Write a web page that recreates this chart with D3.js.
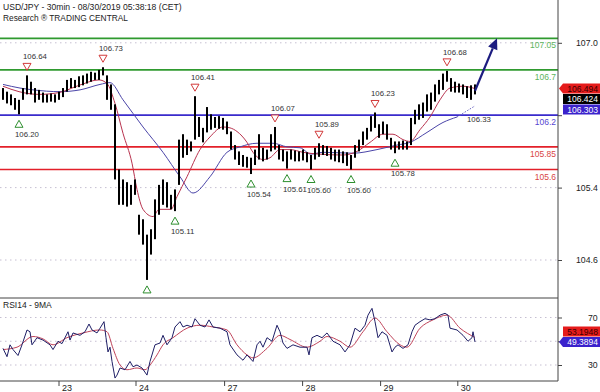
<!DOCTYPE html>
<html><head><meta charset="utf-8">
<script src="https://cdn.jsdelivr.net/npm/d3@7"></script>
<style>body{margin:0;background:#fff}svg{display:block}text{font-family:"Liberation Sans",Arial,sans-serif}</style>
</head><body><svg id="c" width="600" height="392"></svg>
<script>
// ---------- DATA ----------
const hi = [106.50,106.46,106.43,106.39,106.37,106.50,106.64,106.57,106.50,106.48,
106.45,106.43,106.44,106.43,106.46,106.50,106.59,106.61,106.59,106.63,
106.64,106.66,106.68,106.67,106.70,106.73,106.64,106.54,106.32,105.60,
105.49,105.46,105.43,105.49,105.10,105.05,104.88,104.94,105.27,105.43,
105.49,105.46,105.32,105.38,105.93,105.99,105.93,105.91,106.41,106.18,
106.06,106.29,106.21,106.18,106.19,106.17,106.13,106.02,105.87,105.80,
105.76,105.74,105.73,105.82,105.99,105.84,105.82,105.99,106.07,105.87,
105.82,105.80,105.82,105.81,105.80,105.82,105.79,105.76,105.84,105.89,
105.87,105.86,105.84,105.82,105.82,105.80,105.79,105.76,105.87,105.93,
106.02,106.06,106.19,106.23,106.10,106.13,106.10,105.95,105.91,105.91,
105.92,105.91,106.17,106.26,106.32,106.34,106.43,106.45,106.54,106.59,
106.66,106.69,106.61,106.57,106.55,106.54,106.52,106.53,106.54];
const lo = [106.37,106.33,106.31,106.26,106.21,106.37,106.43,106.43,106.34,106.37,
106.34,106.34,106.35,106.34,106.37,106.40,106.46,106.50,106.50,106.51,
106.53,106.55,106.57,106.59,106.59,106.64,106.37,106.26,105.49,105.21,
105.21,105.19,105.21,105.32,104.88,104.77,104.38,104.66,104.83,105.10,
105.21,105.18,105.16,105.14,105.43,105.73,105.76,105.80,105.93,105.96,
105.90,106.01,106.04,106.06,106.05,106.04,105.99,105.82,105.71,105.65,
105.63,105.62,105.55,105.65,105.71,105.69,105.71,105.80,105.82,105.71,
105.69,105.61,105.71,105.69,105.69,105.70,105.68,105.60,105.71,105.74,
105.76,105.75,105.71,105.69,105.68,105.67,105.64,105.60,105.73,105.80,
105.87,105.93,106.02,106.06,105.95,105.99,105.93,105.82,105.78,105.82,
105.82,105.82,105.87,106.10,106.15,106.17,106.24,106.26,106.35,106.43,
106.48,106.57,106.46,106.45,106.45,106.43,106.39,106.37,106.43];

const redMA = [[0,106.52],[4,106.46],[9,106.43],[14,106.45],[19,106.53],[24,106.59],[26,106.55],
[28,106.33],[30,106.00],[32.25,105.67],[33.5,105.38],[35,105.16],[37.5,105.08],[39,105.16],[42,105.16],
[43.5,105.30],[46,105.52],[49.25,105.82],[51.75,105.96],[55,106.07],[56.75,106.06],[58.5,106.02],
[61,105.90],[62.5,105.79],[65,105.71],[66.75,105.73],[69.25,105.82],[71.75,105.82],[75,105.79],
[79,105.77],[85,105.76],[88.5,105.80],[91.75,105.90],[95,105.99],[97.5,105.99],[100,105.93],
[101.75,105.91],[104.25,106.04],[106.75,106.18],[109.25,106.37],[111.75,106.50],[115,106.52],[118,106.494]];
const blueMA = [[0,106.54],[4.25,106.50],[7.5,106.48],[14.25,106.46],[19.25,106.48],[24.25,106.54],
[26.75,106.56],[30,106.37],[35,106.07],[40,105.79],[44.25,105.52],[47.5,105.34],[51.75,105.52],
[56,105.79],[59.25,105.85],[63.5,105.89],[67.5,105.89],[71,105.85],[74.25,105.84],[77,105.77],
[80,105.79],[87.5,105.78],[93.5,105.82],[98.5,105.87],[101.75,105.90],[106,106.01],[110,106.12],[113.5,106.18]];
const blueMAtail = [[113.5,106.18],[118,106.303]];

const rsi = [[0,44],[1,37],[1.75,47],[2.5,43],[3.75,38],[4.75,47],[6,59.5],[6.75,58],[7.25,47],[8.5,53],
[10,51],[11.75,47],[12.5,43],[13.75,50],[14.75,48],[16.25,58],[16.75,51],[17.5,57],[19.25,55],[20.5,58],
[21.5,64.5],[22.25,59.5],[23.5,57],[24.25,61],[25.25,66.5],[25.75,53],[26.25,41],[26.75,45],[27.25,33],
[28,19],[28.5,21.5],[29.25,27.5],[30.5,26],[31.75,33],[32.5,28.5],[33.5,30],[34.75,27.5],[36,21.5],
[36.75,33],[38,47],[39.25,48.5],[40,55],[41,47],[42.25,53],[43,62],[44.25,66.5],[45,62],[46,63.5],
[47.25,62],[48,69],[49.25,63.5],[50.5,62],[51.5,68],[52.5,62],[54.25,61],[56,58],[56.75,47],[58.5,38.5],
[60,34],[61,38.5],[62.5,33],[63.5,47],[64.25,50],[65,45],[66,53],[67.25,50],[68.5,63.5],[69.25,58],
[70,48.5],[71,44],[72.5,47],[74.25,45],[76,45],[76.5,38.5],[77.25,53],[78.5,55],[79.75,53],[81,57],
[82.5,50],[84.25,47],[85.5,41],[86.75,47],[88,61],[89.25,58],[90.5,63.5],[91.25,72],[92.25,77.7],
[93,66.5],[93.75,53],[94.75,58],[96,55],[97.25,41],[98,45],[98.75,47],[100,44],[101.25,47],[102.25,58],
[103,63.5],[104.25,66.5],[105.5,69],[106.75,68],[108,69],[109.25,72],[110.5,73.5],[111.25,72],
[111.75,61],[113.5,59.5],[115,55],[116.25,50],[117.25,53],[117.5,58],[118,49.3894]];
const rsiMA = [[0,43],[3.5,45],[7.5,54],[10,52],[12.5,47],[16,53],[20,57],[24.25,59.5],[26,58],[27.5,44],
[29.25,30],[31,26],[33.5,27.5],[35.5,26],[36.75,30],[38.5,38.5],[40,47],[42.5,53],[46,61],[49.25,63.5],
[52.5,62],[56,59.5],[58.5,47],[61,38.5],[62.5,36],[66,44],[69.25,55],[71.75,51.5],[76,45],[79.25,50],
[81,54],[84.25,50],[86.75,45],[90,58],[93,69.5],[96,58],[99.25,47],[101,45],[104.25,61],[107.5,68],
[111,72],[114.25,61],[118,53.1948]];

const levels = [107.05, 106.7, 106.2, 105.85, 105.6];
const levelLabels = ["107.05","106.7","106.2","105.85","105.6"];
const highMarks = [6, 25, 48, 68, 79, 93, 111];
const highLabels = ["106.64","106.73","106.41","106.07","105.89","106.23","106.68"];
const lowMarks = [4, 36, 43, 62, 71, 77, 87, 98];
const lowLabels = ["106.20","","105.11","105.54","105.61","105.60","105.60","105.78"];
const priceTicks = [107.0, 106.2, 105.4, 104.6];
const priceTickLabels = ["107.0", "", "105.4", "104.6"];   // 106.2 is hidden behind value boxes
const rsiTicks = [30, 50, 70];
const rsiTickLabels = ["30", "", "70"];                     // 50 is hidden behind value boxes
const dayTicks = [14, 33.25, 55.4, 74.9, 94.4, 113.7];
const dayLabels = ["23","24","27","28","29","30"];
const arrowFrom = [118, 106.47], arrowTo = [123.5, 107.05];
const lastPrice = 106.424, lastRed = 106.494, lastBlue = 106.303;
const lastRsi = 49.3894, lastRsiMA = 53.1948;
const blueEndLabel = "106.33";
const title1 = "USD/JPY - 30min - 08/30/2019 05:38:18 (CET)";
const title2 = "Research \u00AE TRADING CENTRAL";
const rsiTitle = "RSI14 - 9MA";

// ---------- DRAW ----------
const FONT = "Liberation Sans, Arial, sans-serif";
const svg = d3.select("#c");
const AX = 558, MB = 298, RB = 381;
const x = d3.scaleLinear().domain([0,118]).range([3,475]);
const y = d3.scaleLinear().domain([104.6,107.0]).range([260,42.8]);
const yr = d3.scaleLinear().domain([30,70]).range([365,317.5]);

svg.append("rect").attr("width",600).attr("height",392).attr("fill","#fff");
const defs = svg.append("defs");
defs.append("clipPath").attr("id","cm").append("rect").attr("x",0).attr("y",0).attr("width",AX).attr("height",MB);
defs.append("clipPath").attr("id","cr").append("rect").attr("x",0).attr("y",MB).attr("width",AX).attr("height",RB-MB);

// grids
svg.append("g").selectAll("line").data(priceTicks).join("line")
  .attr("x1",0).attr("x2",AX).attr("y1",d=>y(d)).attr("y2",d=>y(d))
  .attr("stroke","#c6bfd2").attr("stroke-dasharray","1.5,3.5");
svg.append("g").selectAll("line").data(rsiTicks).join("line")
  .attr("x1",0).attr("x2",AX).attr("y1",d=>yr(d)).attr("y2",d=>yr(d))
  .attr("stroke","#c6bfd2").attr("stroke-dasharray","1.5,3.5");

// titles
function fitText(sel, target){ const n=sel.node(); const fs=+sel.attr("font-size"); const L=n.getComputedTextLength(); sel.attr("font-size", fs*target/L); }
fitText(svg.append("text").attr("x",3).attr("y",9.5).attr("font-size",9).attr("fill","#222").attr("font-family",FONT).text(title1),179);
fitText(svg.append("text").attr("x",3).attr("y",20.5).attr("font-size",9).attr("fill","#222").attr("font-family",FONT).text(title2),125);

const main = svg.append("g").attr("clip-path","url(#cm)");

// levels
const lineCol = ["#2f9a2f","#2f9a2f","#3a2bcc","#e3202a","#e3202a"];
const labCol = ["#5cb45c","#5cb45c","#5646d2","#d84545","#d84545"];
main.selectAll("line.lv").data(levels).join("line").attr("class","lv")
  .attr("x1",0).attr("x2",AX).attr("y1",d=>y(d)).attr("y2",d=>y(d))
  .attr("stroke",(d,i)=>lineCol[i]).attr("stroke-width",1.7);
main.selectAll("text.lv").data(levels).join("text").attr("class","lv")
  .attr("x",AX-2).attr("y",d=>y(d)+10).attr("text-anchor","end").attr("font-size",8.5)
  .attr("font-family",FONT).attr("fill",(d,i)=>labCol[i]).text((d,i)=>levelLabels[i]);

// MAs
const ml = d3.line().x(d=>x(d[0])).y(d=>y(d[1])).curve(d3.curveMonotoneX);
main.append("path").datum(blueMA).attr("d",ml).attr("fill","none").attr("stroke","#4b45a8").attr("stroke-width",1);
main.append("path").datum(blueMAtail).attr("d",ml).attr("fill","none").attr("stroke","#6a64c0").attr("stroke-width",1).attr("stroke-dasharray","1.5,1.5");
main.append("path").datum(redMA).attr("d",ml).attr("fill","none").attr("stroke","#b8324e").attr("stroke-width",1);

// bars
main.append("g").selectAll("rect").data(hi).join("rect")
  .attr("x",(d,i)=>x(i)-1).attr("width",2)
  .attr("y",d=>y(d)).attr("height",(d,i)=>Math.max(1,y(lo[i])-y(d)))
  .attr("fill","#000");

// markers
const tw=4, th=7;
highMarks.forEach((i,k)=>{
  const cx=x(i), tip=y(hi[i])-5;
  main.append("path").attr("d",`M${cx-tw},${tip-th}L${cx+tw},${tip-th}L${cx},${tip}Z`)
    .attr("fill","#fff").attr("stroke","#d23a3a").attr("stroke-width",1);
  main.append("text").attr("x",cx-4).attr("y",tip-th-4).attr("font-size",7.8).attr("font-family",FONT)
    .attr("fill","#333").text(highLabels[k]);
});
lowMarks.forEach((i,k)=>{
  const cx=x(i), top=y(lo[i])+6;
  main.append("path").attr("d",`M${cx},${top}L${cx+tw},${top+th}L${cx-tw},${top+th}Z`)
    .attr("fill","#fff").attr("stroke","#2f8f2f").attr("stroke-width",1);
  if(lowLabels[k]) main.append("text").attr("x",cx-4).attr("y",top+th+10).attr("font-size",7.8).attr("font-family",FONT)
    .attr("fill","#333").text(lowLabels[k]);
});
const bl = blueMAtail[blueMAtail.length-1];
main.append("text").attr("x",x(bl[0])-8).attr("y",y(bl[1])+16).attr("font-size",7.8).attr("font-family",FONT)
  .attr("fill","#333").text(blueEndLabel);

// arrow
{
  const x1=x(arrowFrom[0]), y1=y(arrowFrom[1]), x2=x(arrowTo[0]), y2=y(arrowTo[1]);
  const a=Math.atan2(y2-y1,x2-x1), L=11, Wd=5;
  const bx=x2-L*Math.cos(a), by=y2-L*Math.sin(a);
  svg.append("line").attr("x1",x1).attr("y1",y1).attr("x2",bx).attr("y2",by).attr("stroke","#1c1c80").attr("stroke-width",2.2);
  const px=-Math.sin(a)*Wd, py=Math.cos(a)*Wd;
  svg.append("path").attr("d",`M${x2},${y2}L${bx+px},${by+py}L${bx-px},${by-py}Z`).attr("fill","#1c1c80");
}

// RSI
const rg = svg.append("g").attr("clip-path","url(#cr)");
rg.append("path").datum(rsiMA).attr("d",d3.line().x(d=>x(d[0])).y(d=>yr(d[1])).curve(d3.curveMonotoneX)).attr("fill","none").attr("stroke","#c0445a").attr("stroke-width",1);
rg.append("path").datum(rsi).attr("d",d3.line().x(d=>x(d[0])).y(d=>yr(d[1]))).attr("fill","none").attr("stroke","#1f1f66").attr("stroke-width",1);
svg.append("text").attr("x",3).attr("y",308).attr("font-size",8.5).attr("font-family",FONT).attr("fill","#222").text(rsiTitle);

// frame
svg.append("line").attr("x1",0).attr("x2",AX).attr("y1",MB).attr("y2",MB).attr("stroke","#444");
svg.append("line").attr("x1",0).attr("x2",AX).attr("y1",RB).attr("y2",RB).attr("stroke","#444");
svg.append("line").attr("x1",AX).attr("x2",AX).attr("y1",0).attr("y2",RB).attr("stroke","#444");

// axes
const ya = svg.append("g").attr("transform",`translate(${AX},0)`)
  .call(d3.axisRight(y).tickValues(priceTicks).tickFormat((d,i)=>priceTickLabels[i]).tickSize(4).tickPadding(14));
ya.select(".domain").remove();
ya.attr("font-family",FONT).attr("font-size",8.7);
ya.selectAll("text").attr("fill","#222"); ya.selectAll("line").attr("stroke","#444");
const yra = svg.append("g").attr("transform",`translate(${AX},0)`)
  .call(d3.axisRight(yr).tickValues(rsiTicks).tickFormat((d,i)=>rsiTickLabels[i]).tickSize(4).tickPadding(26));
yra.select(".domain").remove();
yra.attr("font-family",FONT).attr("font-size",8.7);
yra.selectAll("text").attr("fill","#222"); yra.selectAll("line").attr("stroke","#444");

// day ticks
dayTicks.forEach((d,k)=>{
  svg.append("line").attr("x1",x(d)).attr("x2",x(d)).attr("y1",RB).attr("y2",RB+5).attr("stroke","#444");
  svg.append("text").attr("x",x(d)+3).attr("y",390.5).attr("font-size",9).attr("font-family",FONT).attr("fill","#222").text(dayLabels[k]);
});

// right value boxes
function boxes(list, scale, dir){
  const s = list.slice().sort((a,b)=> dir===1 ? b.v-a.v : a.v-b.v);
  const h=10, g=0.5; let prev=null;
  s.forEach(b=>{
    let c=scale(b.v);
    if(prev!==null){ if(dir===1) c=Math.max(c,prev+h+g); else c=Math.min(c,prev-h-g); }
    prev=c;
    const t=c-h/2, bt=c+h/2;
    const p = b.arrow ? `M${AX+1},${c}L${AX+5},${t}L600,${t}L600,${bt}L${AX+5},${bt}Z`
                      : `M${AX+5},${t}L600,${t}L600,${bt}L${AX+5},${bt}Z`;
    svg.append("path").attr("d",p).attr("fill",b.fill);
    svg.append("text").attr("x",598).attr("y",c+3.2).attr("text-anchor","end").attr("font-size",8.5)
      .attr("font-family",FONT).attr("fill",b.tc).text(b.txt);
  });
}
boxes([{v:lastRed,txt:d3.format(".3f")(lastRed),fill:"#e51b1b",tc:"#3a0000",arrow:true},
       {v:lastPrice,txt:d3.format(".3f")(lastPrice),fill:"#000",tc:"#fff",arrow:false},
       {v:lastBlue,txt:d3.format(".3f")(lastBlue),fill:"#3a22cc",tc:"#fff",arrow:false}], y, 1);
boxes([{v:lastRsiMA,txt:d3.format(".4f")(lastRsiMA),fill:"#e51b1b",tc:"#3a0000",arrow:false},
       {v:lastRsi,txt:d3.format(".4f")(lastRsi),fill:"#3a22cc",tc:"#fff",arrow:true}], yr, -1);
</script>
</body></html>
